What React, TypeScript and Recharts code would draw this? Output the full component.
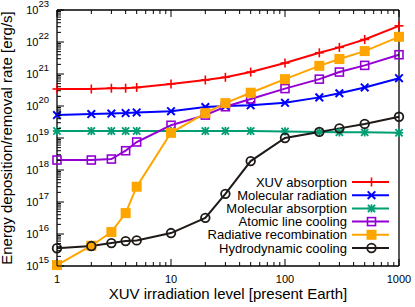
import React from 'react';
import { LineChart, Line, XAxis, YAxis, Legend } from 'recharts';

// XUV irradiation level [present Earth]
const irradiation = [1, 2, 3, 4, 5, 10, 20, 30, 50, 100, 200, 300, 500, 1000];

// rates in erg/s
const xuvAbsorption = [3.4e20, 3.4e20, 3.6e20, 3.6e20, 3.8e20, 4.9e20, 6.5e20, 7.9e20, 1.15e21, 2.2e21, 4.6e21, 6.8e21, 1.2e22, 3.2e22];
const molecularRadiation = [5.2e19, 5.6e19, 5.8e19, 6.0e19, 6.3e19, 6.9e19, 9.3e19, 1.0e20, 1.05e20, 1.26e20, 1.86e20, 2.5e20, 3.8e20, 7.4e20];
const molecularAbsorption = [1.65e19, 1.65e19, 1.65e19, 1.65e19, 1.65e19, 1.65e19, 1.65e19, 1.65e19, 1.65e19, 1.6e19, 1.55e19, 1.5e19, 1.5e19, 1.45e19];
const atomicLineCooling = [2.05e18, 2.05e18, 2.2e18, 4.0e18, 7.5e18, 2.5e19, 5.2e19, 9.5e19, 1.66e20, 3.5e20, 6.9e20, 1.15e21, 1.86e21, 4.0e21];
const radiativeRecombination = [1.07e15, 4.3e15, 1.15e16, 4.5e16, 3.0e17, 1.45e19, 6.0e19, 1.23e20, 2.6e20, 6.9e20, 1.8e21, 2.95e21, 5.2e21, 1.45e22];
const hydrodynamicCooling = [3.6e15, 4.2e15, 5.2e15, 6.0e15, 6.3e15, 1.07e16, 3.2e16, 1.8e17, 1.9e18, 1.0e19, 1.55e19, 2.0e19, 2.75e19, 4.6e19];

const xMajorTicks = [1, 10, 100, 1000];
const yMajorTicks = [1e15, 1e16, 1e17, 1e18, 1e19, 1e20, 1e21, 1e22, 1e23];

const minorOf = (majors: number[]) => {
  const out: number[] = [];
  majors.slice(0, -1).forEach((m) => {
    for (let k = 1; k < 10; k++) out.push(m * k);
  });
  out.push(majors[majors.length - 1]);
  return out;
};
const xTicks = minorOf(xMajorTicks);
const yTicks = minorOf(yMajorTicks);

const series = [
  { key: 'xuv', name: 'XUV absorption', color: '#ff0000', shape: 'plus', values: xuvAbsorption },
  { key: 'molRad', name: 'Molecular radiation', color: '#0000ff', shape: 'cross', values: molecularRadiation },
  { key: 'molAbs', name: 'Molecular absorption', color: '#009e73', shape: 'star', values: molecularAbsorption },
  { key: 'atomic', name: 'Atomic line cooling', color: '#9400d3', shape: 'openSquare', values: atomicLineCooling },
  { key: 'recomb', name: 'Radiative recombination', color: '#ffa500', shape: 'filledSquare', values: radiativeRecombination },
  { key: 'hydro', name: 'Hydrodynamic cooling', color: '#1f1a17', shape: 'circle', values: hydrodynamicCooling },
];

const data = irradiation.map((x, i) => {
  const row: Record<string, number> = { x };
  series.forEach((s) => {
    row[s.key] = s.values[i];
  });
  return row;
});

const isMajor = (v: number) => Math.abs(Math.log10(v) - Math.round(Math.log10(v))) < 1e-9;

const Marker = ({ shape, cx, cy, color }: { shape: string; cx: number; cy: number; color: string }) => {
  if (shape === 'plus') {
    const r = 4.5;
    return (
      <g stroke={color} strokeWidth={1.6}>
        <line x1={cx - r} x2={cx + r} y1={cy} y2={cy} />
        <line x1={cx} x2={cx} y1={cy - r} y2={cy + r} />
      </g>
    );
  }
  if (shape === 'cross') {
    const r = 3.8;
    return (
      <g stroke={color} strokeWidth={2}>
        <line x1={cx - r} x2={cx + r} y1={cy - r} y2={cy + r} />
        <line x1={cx - r} x2={cx + r} y1={cy + r} y2={cy - r} />
      </g>
    );
  }
  if (shape === 'star') {
    const r = 3.6;
    return (
      <g stroke={color} strokeWidth={1.8}>
        <line x1={cx - r} x2={cx + r} y1={cy - r} y2={cy + r} />
        <line x1={cx - r} x2={cx + r} y1={cy + r} y2={cy - r} />
        <line x1={cx - r - 0.5} x2={cx + r + 0.5} y1={cy} y2={cy} />
        <line x1={cx} x2={cx} y1={cy - r - 0.5} y2={cy + r + 0.5} />
      </g>
    );
  }
  if (shape === 'openSquare') {
    return <rect x={cx - 4} y={cy - 4} width={8} height={8} fill="none" stroke={color} strokeWidth={1.6} />;
  }
  if (shape === 'filledSquare') {
    return <rect x={cx - 5} y={cy - 5} width={10} height={10} fill={color} stroke="none" />;
  }
  return <circle cx={cx} cy={cy} r={4.3} fill="none" stroke={color} strokeWidth={1.8} />;
};

const makeDot = (shape: string, color: string) => (props: any) => {
  const { cx, cy, index } = props;
  if (cx == null || cy == null) return <g key={index} />;
  return (
    <g key={index}>
      <Marker shape={shape} cx={cx} cy={cy} color={color} />
    </g>
  );
};

const FONT = "'Liberation Sans', Arial, Helvetica, sans-serif";
const MAJOR = 7;
const MINOR = 4;

const XTickBottom = (props: any) => {
  const { x, y, payload } = props;
  const v = payload.value;
  const major = isMajor(v);
  return (
    <g>
      <line x1={x} x2={x} y1={y} y2={y - (major ? MAJOR : MINOR)} stroke="#000" strokeWidth={1} />
      {major && (
        <text x={x} y={y + 17} textAnchor="middle" fontSize={11} fontFamily={FONT} fill="#000">
          {v}
        </text>
      )}
    </g>
  );
};

const XTickTop = (props: any) => {
  const { x, y, payload } = props;
  const major = isMajor(payload.value);
  return <line x1={x} x2={x} y1={y} y2={y + (major ? MAJOR : MINOR)} stroke="#000" strokeWidth={1} />;
};

const YTickLeft = (props: any) => {
  const { x, y, payload } = props;
  const v = payload.value;
  const major = isMajor(v);
  return (
    <g>
      <line x1={x} x2={x + (major ? MAJOR : MINOR)} y1={y} y2={y} stroke="#000" strokeWidth={1} />
      {major && (
        <text x={x - 8} y={y + 4} textAnchor="end" fontFamily={FONT} fill="#000">
          <tspan fontSize={11}>10</tspan>
          <tspan fontSize={9.5} dy={-7}>
            {Math.round(Math.log10(v))}
          </tspan>
        </text>
      )}
    </g>
  );
};

const YTickRight = (props: any) => {
  const { x, y, payload } = props;
  const major = isMajor(payload.value);
  return <line x1={x} x2={x - (major ? MAJOR : MINOR)} y1={y} y2={y} stroke="#000" strokeWidth={1} />;
};

const YLabel = () => (
  <text
    x={12}
    y={138}
    transform="rotate(-90 12 138)"
    textAnchor="middle"
    fontSize={15}
    fontFamily={FONT}
    fill="#000"
  >
    Energy deposition/removal rate [erg/s]
  </text>
);

const XLabel = () => (
  <text x={228} y={299} textAnchor="middle" fontSize={15} fontFamily={FONT} fill="#000">
    XUV irradiation level [present Earth]
  </text>
);

const LegendBox = () => (
  <svg width={200} height={86} style={{ display: 'block', overflow: 'visible' }}>
    {series.map((s, i) => {
      const y = 8 + i * 13.2;
      return (
        <g key={s.key}>
          <text x={147} y={y + 4.6} textAnchor="end" fontSize={13} fontFamily={FONT} fill="#000">
            {s.name}
          </text>
          <line x1={152} x2={189} y1={y} y2={y} stroke={s.color} strokeWidth={2} />
          <Marker shape={s.shape} cx={171.5} cy={y} color={s.color} />
        </g>
      );
    })}
  </svg>
);

const axisLine = { stroke: '#000', strokeWidth: 1.3 };

export default function App() {
  return (
    <div style={{ position: 'absolute', left: 0, top: 0, width: 415, height: 307, background: '#fff', fontFamily: FONT }}>
      <LineChart width={415} height={307} data={data} margin={{ top: 0, right: 0, bottom: 0, left: 0 }}>
        <XAxis
          xAxisId="bottom"
          dataKey="x"
          type="number"
          scale="log"
          domain={[1, 1000]}
          ticks={xTicks}
          interval={0}
          tick={<XTickBottom />}
          tickSize={0}
          tickMargin={0}
          tickLine={false}
          axisLine={axisLine}
          height={41}
          orientation="bottom"
          label={<XLabel />}
        />
        <XAxis
          xAxisId="top"
          dataKey="x"
          type="number"
          scale="log"
          domain={[1, 1000]}
          ticks={xTicks}
          interval={0}
          tick={<XTickTop />}
          tickSize={0}
          tickMargin={0}
          tickLine={false}
          axisLine={axisLine}
          height={10}
          orientation="top"
        />
        <YAxis
          yAxisId="left"
          type="number"
          scale="log"
          domain={[1e15, 1e23]}
          ticks={yTicks}
          interval={0}
          tick={<YTickLeft />}
          tickSize={0}
          tickMargin={0}
          tickLine={false}
          axisLine={axisLine}
          width={57}
          orientation="left"
          label={<YLabel />}
        />
        <YAxis
          yAxisId="right"
          type="number"
          scale="log"
          domain={[1e15, 1e23]}
          ticks={yTicks}
          interval={0}
          tick={<YTickRight />}
          tickSize={0}
          tickMargin={0}
          tickLine={false}
          axisLine={axisLine}
          width={16}
          orientation="right"
        />
        {series.map((s) => (
          <Line
            key={s.key}
            xAxisId="bottom"
            yAxisId="left"
            dataKey={s.key}
            name={s.name}
            stroke={s.color}
            strokeWidth={2}
            dot={makeDot(s.shape, s.color)}
            activeDot={false}
            isAnimationActive={false}
            type="linear"
          />
        ))}
        <Legend
          layout="vertical"
          align="center"
          verticalAlign="middle"
          content={<LegendBox />}
          wrapperStyle={{ left: 200, top: 174, width: 200, height: 86, bottom: 'auto', right: 'auto' }}
        />
      </LineChart>
    </div>
  );
}
